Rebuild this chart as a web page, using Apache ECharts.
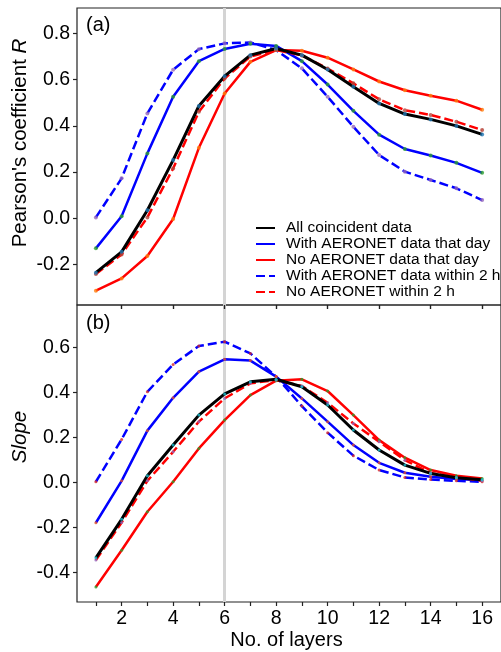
<!DOCTYPE html>
<html><head><meta charset="utf-8">
<script src="https://cdn.jsdelivr.net/npm/echarts@6/dist/echarts.min.js"></script>
<style>html,body{margin:0;padding:0;background:#fff}#c{width:501px;height:652px}</style>
</head><body><div id="c"></div>
<script>
// ---- data ----
const layers = [1,2,3,4,5,6,7,8,9,10,11,12,13,14,15,16];
const seriesNames = ['All coincident data','With AERONET data that day','No AERONET data that day','With AERONET data within 2 h','No AERONET within 2 h'];
// Panel (a): Pearson's coefficient R
const allR    = [-0.235,-0.145,0.035,0.252,0.486,0.615,0.706,0.735,0.706,0.644,0.569,0.497,0.451,0.428,0.400,0.363];
const withDayR= [-0.130,0.009,0.281,0.526,0.680,0.733,0.755,0.746,0.680,0.579,0.465,0.362,0.300,0.272,0.240,0.197];
const noDayR  = [-0.313,-0.260,-0.163,-0.003,0.305,0.540,0.677,0.728,0.725,0.695,0.644,0.592,0.554,0.530,0.509,0.470];
const with2hR = [0.004,0.173,0.454,0.643,0.732,0.757,0.761,0.728,0.649,0.526,0.396,0.274,0.202,0.166,0.130,0.079];
const no2hR   = [-0.241,-0.156,0.004,0.216,0.461,0.605,0.700,0.728,0.705,0.648,0.584,0.515,0.468,0.447,0.418,0.382];
// Panel (b): Slope
const allS    = [-0.335,-0.164,0.030,0.166,0.299,0.393,0.447,0.458,0.425,0.344,0.233,0.144,0.077,0.040,0.021,0.012];
const withDayS= [-0.179,0.007,0.230,0.376,0.492,0.547,0.541,0.470,0.373,0.270,0.166,0.087,0.043,0.025,0.015,0.010];
const noDayS  = [-0.464,-0.301,-0.130,0.003,0.151,0.277,0.388,0.452,0.458,0.406,0.299,0.188,0.110,0.055,0.030,0.018];
const with2hS = [0.003,0.191,0.403,0.524,0.606,0.625,0.573,0.470,0.339,0.221,0.119,0.055,0.022,0.013,0.007,0.003];
const no2hS   = [-0.345,-0.178,0.007,0.136,0.270,0.373,0.440,0.455,0.428,0.354,0.262,0.181,0.099,0.042,0.022,0.008];
// ticks
const xTicksTop = [2,4,6,8,10,12,14,16];
const xTicksBottom = [1,2,3,4,5,6,7,8,9,10,11,12,13,14,15,16];
const xLabels = [2,4,6,8,10,12,14,16];
const yTicksR = [-0.2,0,0.2,0.4,0.6,0.8];
const yTicksS = [-0.4,-0.2,0,0.2,0.4,0.6];
const refLayer = 6;

// ---- chart ----
const FONT = "'Liberation Sans', Arial, sans-serif";
const AX = '#222';
const chart = echarts.init(document.getElementById('c'), null, {renderer:'canvas'});

const styles = [
  {color:'#000000', width:3,   type:'solid',  dot:'#1f77b4'},
  {color:'#0000ff', width:2.5, type:'solid',  dot:'#2ca02c'},
  {color:'#ff0000', width:2.5, type:'solid',  dot:'#ff7f0e'},
  {color:'#0000ff', width:2.5, type:[9,4],    dot:'#9467bd'},
  {color:'#ff0000', width:2.5, type:[9,4],    dot:'#b5453a'}
];
const dotsBottom = ['#17becf','#e5532a','#2ca02c','#d62728','#9467bd'];
const panels = [
  [allR, withDayR, noDayR, with2hR, no2hR],
  [allS, withDayS, noDayS, with2hS, no2hS]
];
const drawOrder = [3,1,2,4,0];

const series = [];
panels.forEach((vals, p) => {
  series.push({
    type:'line', name:'ref'+p, xAxisIndex:p, yAxisIndex:p, data:[], symbol:'none', silent:true,
    markLine:{silent:true, symbol:['none','none'], z:1, label:{show:false},
      lineStyle:{color:'#d4d4d4', width:3, type:'solid'}, data:[{xAxis:refLayer}]}
  });
  drawOrder.forEach(k => {
    const st = styles[k];
    series.push({
      type:'line', name:seriesNames[k], xAxisIndex:p, yAxisIndex:p, z:3,
      data: layers.map((x,i)=>[x, vals[k][i]]),
      symbol:'none', color:st.color,
      lineStyle:{color:st.color, width:st.width, type:st.type},
      emphasis:{disabled:true}
    });
  });
  drawOrder.forEach(k => {
    series.push({
      type:'scatter', name:'dots'+p+'_'+k, xAxisIndex:p, yAxisIndex:p, z:4, silent:true,
      data: layers.map((x,i)=>[x, vals[k][i]]),
      symbolSize: p===0 ? 4 : 3,
      itemStyle:{color: p===0 ? styles[k].dot : dotsBottom[k]}
    });
  });
});

const xBase = (gi, ticks, showLabels) => ({
  gridIndex:gi, type:'value', min:0.267, max:16.733, z:5,
  axisLine:{show:false, onZero:false}, splitLine:{show:false},
  axisTick:{show:true, length:4, customValues:ticks, lineStyle:{color:AX, width:1.2}},
  axisLabel:{show:true, customValues:xLabels, fontSize:19.5, color:'#000', margin:7, fontFamily:FONT,
    formatter: showLabels ? (v => String(v)) : (() => '')}
});
const yBase = (gi, mn, mx, ticks) => ({
  gridIndex:gi, type:'value', min:mn, max:mx, z:5,
  axisLine:{show:false, onZero:false}, splitLine:{show:false},
  axisTick:{show:true, length:4, customValues:ticks, lineStyle:{color:AX, width:1.2}},
  axisLabel:{customValues:ticks, fontSize:19.5, color:'#000', margin:7, fontFamily:FONT,
    formatter:v=>v.toFixed(1)}
});

// extra axis on top edge of panel (b): the outward ticks of panel (a)'s x axis
const xTopTicksAxis = {
  gridIndex:1, type:'value', position:'top', min:0.267, max:16.733, z:5,
  axisLine:{show:false, onZero:false}, splitLine:{show:false},
  axisTick:{show:true, inside:true, length:4, customValues:xTicksTop, lineStyle:{color:AX, width:1.2}},
  axisLabel:{show:false}
};

chart.setOption({
  animation:false,
  backgroundColor:'#fff',
  grid:[
    {left:77, top:8, right:-3, height:297, show:true, borderColor:AX, borderWidth:1.2},
    {left:77, top:305, right:-3, height:297, show:true, borderColor:AX, borderWidth:1.2}
  ],
  xAxis:[ xBase(0, xTicksTop, false), xBase(1, xTicksBottom, true), xTopTicksAxis ],
  yAxis:[ yBase(0, -0.375, 0.91, yTicksR), yBase(1, -0.531, 0.788, yTicksS) ],
  legend:{
    data: seriesNames, orient:'vertical', left:255, top:220, padding:0,
    itemWidth:19, itemHeight:14, itemGap:0, selectedMode:false,
    itemStyle:{opacity:0},
    textStyle:{fontSize:15.5, color:'#000', fontFamily:FONT, padding:[0,0,0,6], lineHeight:15}
  },
  graphic:[
    {type:'text', left:86, top:15, style:{text:'(a)', fontSize:20, fill:'#000', font:'20px '+FONT}},
    {type:'text', left:86, top:313, style:{text:'(b)', fontSize:20, fill:'#000', font:'20px '+FONT}},
    {type:'text', x:20, y:143, rotation:Math.PI/2,
      style:{text:"Pearson's coefficient {i|R}", align:'center', verticalAlign:'middle', fill:'#000',
        fontSize:20.5, fontFamily:FONT, rich:{i:{fontStyle:'italic', fontSize:20.5, fontFamily:FONT}}}},
    {type:'text', x:20, y:437, rotation:Math.PI/2,
      style:{text:'Slope', align:'center', verticalAlign:'middle', fill:'#000',
        fontSize:20.5, fontFamily:FONT, fontStyle:'italic'}},
    {type:'text', x:286.5, y:640,
      style:{text:'No. of layers', align:'center', verticalAlign:'middle', fill:'#000',
        fontSize:20, fontFamily:FONT}}
  ],
  series: series
});
</script></body></html>
